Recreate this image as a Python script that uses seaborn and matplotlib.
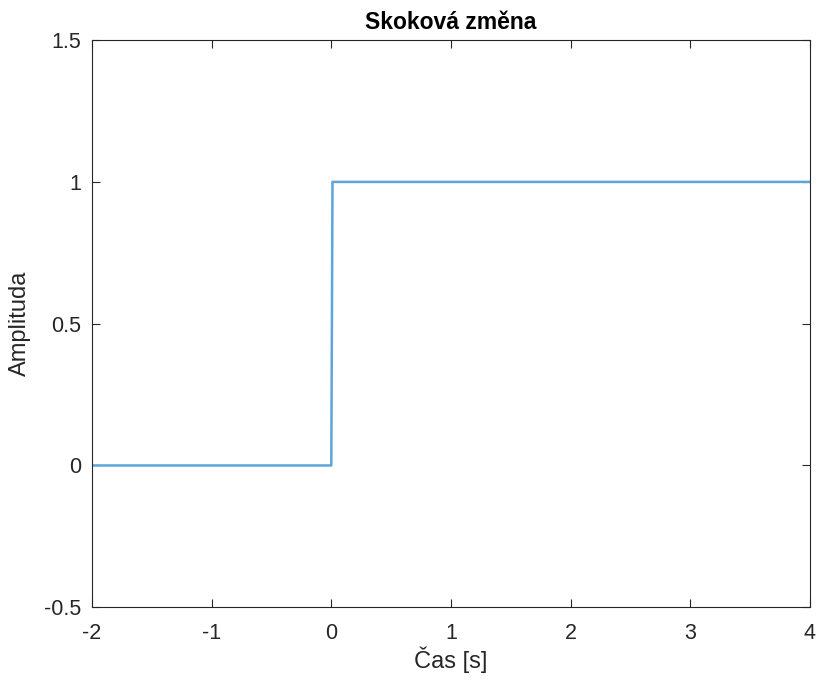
import matplotlib
matplotlib.use("Agg")
import matplotlib.pyplot as plt
import seaborn as sns
import pandas as pd
from matplotlib.ticker import FormatStrFormatter

# step signal samples
cas = [-2, 0, 0.01, 4]
amplituda = [0, 0, 1, 1]
xticks = [-2, -1, 0, 1, 2, 3, 4]
yticks = [-0.5, 0, 0.5, 1, 1.5]

sns.set_style("ticks")
plt.rcParams['font.family'] = ['Liberation Sans', 'DejaVu Sans']
plt.rcParams['axes.unicode_minus'] = False

data = pd.DataFrame({"Cas": cas, "Amplituda": amplituda})

fig = plt.figure(figsize=(8.21, 6.80), dpi=100)
ax = fig.add_axes([0.112, 0.107, 0.8746, 0.834])
sns.lineplot(data=data, x="Cas", y="Amplituda", ax=ax, color="#5DA5DA", linewidth=1.8)

ax.set_xlim(-2, 4)
ax.set_ylim(-0.5, 1.5)
ax.set_xticks(xticks)
ax.set_yticks(yticks)
ax.yaxis.set_major_formatter(FormatStrFormatter('%g'))
ax.tick_params(direction='in', length=6, width=0.8, labelsize=15.5, colors='#262626',
               top=True, right=True)
ax.tick_params(axis='x', pad=11)
ax.tick_params(axis='y', pad=8)
for s in ax.spines.values():
    s.set_color('#262626')
    s.set_linewidth(0.8)
ax.set_xlabel("Čas [s]", fontsize=17, color='#262626', labelpad=2)
ax.set_ylabel("Amplituda", fontsize=17, color='#262626', labelpad=9)
ax.set_title("Skoková změna", fontsize=16.5, fontweight='bold', color='black', pad=8)

fig.savefig("out.png", dpi=100)
